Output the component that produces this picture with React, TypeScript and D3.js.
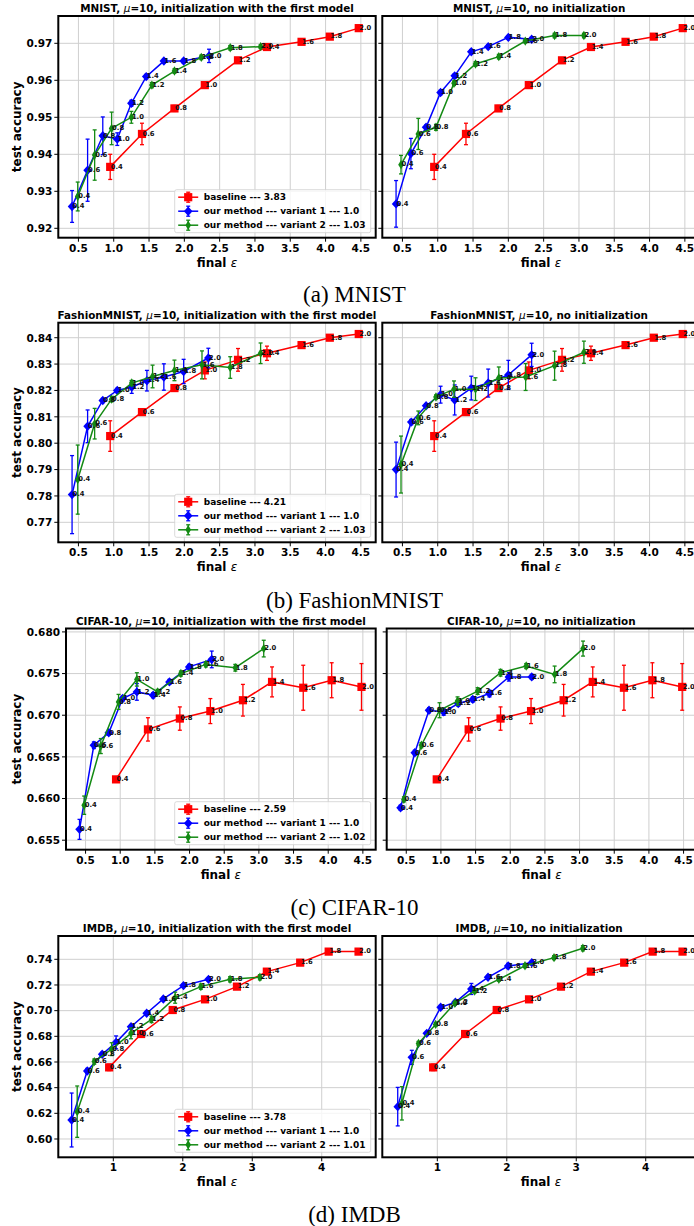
import React from 'react';
import * as d3 from 'd3';

const epsLabels = ["0.4", "0.6", "0.8", "1.0", "1.2", "1.4", "1.6", "1.8", "2.0"];

const xTicksEps = [0.5, 1.0, 1.5, 2.0, 2.5, 3.0, 3.5, 4.0, 4.5];
const xTicksImdb = [1, 2, 3, 4];
const yTicksMnist = [0.92, 0.93, 0.94, 0.95, 0.96, 0.97];
const yTicksFashion = [0.77, 0.78, 0.79, 0.80, 0.81, 0.82, 0.83, 0.84];
const yTicksCifar = [0.655, 0.660, 0.665, 0.670, 0.675, 0.680];
const yTicksImdb = [0.60, 0.62, 0.64, 0.66, 0.68, 0.70, 0.72, 0.74];

// (a) MNIST
const mnistBaseX = [0.95, 1.40, 1.86, 2.29, 2.76, 3.17, 3.66, 4.06, 4.47];
const mnistBaseY = [0.9366, 0.9455, 0.9524, 0.9587, 0.9654, 0.9690, 0.9704, 0.9718, 0.9741];
const mnistBaseErr = [0.0034, 0.0029, 0.0008, 0.0006, 0.0007, 0.0006, 0.0004, 0.0006, 0.0004];
const mnistInitV1X = [0.41, 0.63, 0.845, 1.05, 1.25, 1.46, 1.71, 1.99, 2.35];
const mnistInitV1Y = [0.9259, 0.9357, 0.9450, 0.9441, 0.9538, 0.9610, 0.9652, 0.9652, 0.9666];
const mnistInitV1Err = [0.0043, 0.0084, 0.0051, 0.0017, 0.0008, 0.0006, 0.0005, 0.0005, 0.0018];
const mnistInitV2X = [0.49, 0.73, 0.97, 1.25, 1.54, 1.86, 2.24, 2.65, 3.08];
const mnistInitV2Y = [0.9286, 0.9398, 0.9470, 0.9500, 0.9587, 0.9625, 0.9662, 0.9688, 0.9691];
const mnistInitV2Err = [0.0039, 0.0068, 0.0044, 0.0016, 0.0007, 0.0006, 0.0006, 0.0006, 0.0005];
const mnistNoV1X = [0.41, 0.62, 0.835, 1.04, 1.24, 1.475, 1.715, 2.0, 2.33];
const mnistNoV1Y = [0.9266, 0.9402, 0.9473, 0.9567, 0.9612, 0.9677, 0.9691, 0.9716, 0.9711];
const mnistNoV1Err = [0.0063, 0.0041, 0.0006, 0.0006, 0.0006, 0.0006, 0.0005, 0.0005, 0.0005];
const mnistNoV2X = [0.48, 0.725, 0.975, 1.23, 1.535, 1.865, 2.24, 2.655, 3.07];
const mnistNoV2Y = [0.9372, 0.9455, 0.9473, 0.9592, 0.9644, 0.9664, 0.9706, 0.9721, 0.9721];
const mnistNoV2Err = [0.0025, 0.0042, 0.0008, 0.0006, 0.0006, 0.0006, 0.0005, 0.0006, 0.0006];
const mnistLegend = ["baseline --- 3.83", "our method --- variant 1 --- 1.0", "our method --- variant 2 --- 1.03"];

// (b) FashionMNIST
const fashionBaseX = [0.95, 1.40, 1.86, 2.29, 2.76, 3.17, 3.66, 4.06, 4.47];
const fashionBaseY = [0.8027, 0.8118, 0.8209, 0.8276, 0.8316, 0.8341, 0.8372, 0.8400, 0.8414];
const fashionBaseErr = [0.0058, 0.0008, 0.0008, 0.0032, 0.0043, 0.0027, 0.0008, 0.0008, 0.0006];
const fashionInitV1X = [0.41, 0.63, 0.845, 1.05, 1.255, 1.47, 1.71, 1.99, 2.34];
const fashionInitV1Y = [0.7805, 0.8064, 0.8162, 0.8200, 0.8213, 0.8237, 0.8251, 0.8272, 0.8323];
const fashionInitV1Err = [0.0148, 0.0062, 0.0008, 0.0008, 0.0024, 0.0039, 0.0050, 0.0046, 0.0037];
const fashionInitV2X = [0.49, 0.73, 0.97, 1.255, 1.55, 1.86, 2.25, 2.65, 3.08];
const fashionInitV2Y = [0.7862, 0.8074, 0.8167, 0.8228, 0.8253, 0.8276, 0.8297, 0.8287, 0.8341];
const fashionInitV2Err = [0.0131, 0.0058, 0.0010, 0.0010, 0.0043, 0.0039, 0.0053, 0.0041, 0.0039];
const fashionNoV1X = [0.41, 0.625, 0.835, 1.04, 1.24, 1.475, 1.715, 2.0, 2.33];
const fashionNoV1Y = [0.7900, 0.8080, 0.8142, 0.8184, 0.8164, 0.8209, 0.8228, 0.8259, 0.8335];
const fashionNoV1Err = [0.0104, 0.0010, 0.0008, 0.0032, 0.0057, 0.0045, 0.0053, 0.0055, 0.0044];
const fashionNoV2X = [0.48, 0.725, 0.975, 1.23, 1.535, 1.865, 2.245, 2.655, 3.07];
const fashionNoV2Y = [0.7919, 0.8096, 0.8175, 0.8205, 0.8205, 0.8247, 0.8251, 0.8294, 0.8345];
const fashionNoV2Err = [0.0108, 0.0026, 0.0008, 0.0031, 0.0043, 0.0042, 0.0051, 0.0055, 0.0042];
const fashionLegend = ["baseline --- 4.21", "our method --- variant 1 --- 1.0", "our method --- variant 2 --- 1.03"];

// (c) CIFAR-10
const cifarBaseX = [0.94, 1.40, 1.86, 2.30, 2.77, 3.19, 3.64, 4.05, 4.48];
const cifarBaseY = [0.6623, 0.6683, 0.6696, 0.6705, 0.6718, 0.6740, 0.6733, 0.6742, 0.6734];
const cifarBaseErr = [0.0003, 0.0014, 0.0014, 0.0015, 0.0019, 0.0018, 0.0027, 0.0021, 0.0028];
const cifarInitV1X = [0.413, 0.62, 0.835, 1.035, 1.24, 1.475, 1.71, 1.995, 2.32];
const cifarInitV1Y = [0.6563, 0.6664, 0.6679, 0.6720, 0.6728, 0.6724, 0.6740, 0.6758, 0.6767];
const cifarInitV1Err = [0.0012, 0.0004, 0.0003, 0.0003, 0.0010, 0.0003, 0.0003, 0.0003, 0.0010];
const cifarInitV2X = [0.48, 0.72, 0.976, 1.24, 1.54, 1.875, 2.235, 2.66, 3.07];
const cifarInitV2Y = [0.6592, 0.6663, 0.6716, 0.6743, 0.6728, 0.6750, 0.6761, 0.6757, 0.6780];
const cifarInitV2Err = [0.0011, 0.0009, 0.0009, 0.0008, 0.0003, 0.0003, 0.0003, 0.0004, 0.0010];
const cifarNoV1X = [0.418, 0.623, 0.828, 1.04, 1.25, 1.46, 1.70, 1.98, 2.31];
const cifarNoV1Y = [0.6589, 0.6655, 0.6706, 0.6704, 0.6714, 0.6719, 0.6726, 0.6746, 0.6746];
const cifarNoV1Err = [0.0003, 0.0003, 0.0003, 0.0004, 0.0003, 0.0003, 0.0004, 0.0005, 0.0003];
const cifarNoV2X = [0.466, 0.718, 0.98, 1.24, 1.53, 1.86, 2.23, 2.64, 3.05];
const cifarNoV2Y = [0.6599, 0.6664, 0.6706, 0.6717, 0.6729, 0.6751, 0.6759, 0.6749, 0.6780];
const cifarNoV2Err = [0.0003, 0.0003, 0.0009, 0.0005, 0.0004, 0.0004, 0.0003, 0.0010, 0.0009];
const cifarLegend = ["baseline --- 2.59", "our method --- variant 1 --- 1.0", "our method --- variant 2 --- 1.02"];

// (d) IMDB
const imdbBaseX = [0.94, 1.40, 1.855, 2.32, 2.78, 3.21, 3.69, 4.10, 4.53];
const imdbBaseY = [0.6558, 0.6818, 0.7005, 0.7088, 0.7187, 0.7304, 0.7374, 0.7460, 0.7460];
const imdbBaseErr = [0.0025, 0.0012, 0.0012, 0.0012, 0.0012, 0.0012, 0.0010, 0.0010, 0.0010];
const imdbInitV1X = [0.40, 0.625, 0.84, 1.04, 1.255, 1.48, 1.72, 2.01, 2.37];
const imdbInitV1Y = [0.6148, 0.6530, 0.6660, 0.6753, 0.6875, 0.6980, 0.7091, 0.7195, 0.7244];
const imdbInitV1Err = [0.0210, 0.0020, 0.0015, 0.0050, 0.0015, 0.0015, 0.0012, 0.0012, 0.0012];
const imdbInitV2X = [0.48, 0.726, 0.976, 1.254, 1.55, 1.89, 2.26, 2.68, 3.11];
const imdbInitV2Y = [0.6213, 0.6603, 0.6700, 0.6823, 0.6932, 0.7101, 0.7187, 0.7244, 0.7260];
const imdbInitV2Err = [0.0200, 0.0020, 0.0050, 0.0042, 0.0025, 0.0043, 0.0020, 0.0020, 0.0020];
const imdbNoV1X = [0.43, 0.633, 0.848, 1.048, 1.26, 1.49, 1.73, 2.02, 2.36];
const imdbNoV1Y = [0.6252, 0.6636, 0.6823, 0.7026, 0.7065, 0.7169, 0.7260, 0.7348, 0.7374];
const imdbNoV1Err = [0.0150, 0.0055, 0.0015, 0.0015, 0.0015, 0.0043, 0.0015, 0.0020, 0.0015];
const imdbNoV2X = [0.49, 0.729, 0.976, 1.252, 1.538, 1.886, 2.262, 2.68, 3.095];
const imdbNoV2Y = [0.6278, 0.6745, 0.6893, 0.7057, 0.7153, 0.7244, 0.7350, 0.7413, 0.7486];
const imdbNoV2Err = [0.0130, 0.0015, 0.0015, 0.0015, 0.0015, 0.0015, 0.0015, 0.0015, 0.0020];
const imdbLegend = ["baseline --- 3.78", "our method --- variant 1 --- 1.0", "our method --- variant 2 --- 1.01"];

const RED = "#ff0000";
const BLUE = "#0000ff";
const GREEN = "#138a13";
const FONT = "'DejaVu Sans', sans-serif";

type Series = { x: number[]; y: number[]; err: number[]; color: string; marker: string };
type Box = { x0: number; x1: number; y0: number; y1: number };

const mk = (x: number[], y: number[], err: number[], color: string, marker: string): Series =>
  ({ x, y, err, color, marker });

function Marker({ type, cx, cy, color }: { type: string; cx: number; cy: number; color: string }) {
  if (type === "s") return <rect x={cx - 4.1} y={cy - 4.1} width={8.2} height={8.2} fill={color} />;
  const w = type === "D" ? 4.3 : 2.8;
  const h = 4.7;
  return <path d={`M${cx},${cy - h}L${cx + w},${cy}L${cx},${cy + h}L${cx - w},${cy}Z`} fill={color} />;
}

function Panel(props: {
  box: Box; xDomain: number[]; yDomain: number[]; xTicks: number[]; yTicks: number[];
  xFmt: string; yFmt: string; dataset: string; sub: string; showY: boolean;
  series: Series[]; legend?: string[];
}) {
  const { box, series, legend } = props;
  const x = d3.scaleLinear().domain(props.xDomain).range([box.x0, box.x1]);
  const y = d3.scaleLinear().domain(props.yDomain).range([box.y1, box.y0]);
  const line = d3.line<[number, number]>().x(d => x(d[0])).y(d => y(d[1]));
  const fx = d3.format(props.xFmt);
  const fy = d3.format(props.yFmt);
  const cxm = (box.x0 + Math.min(box.x1, 694)) / 2;
  const cxFull = (box.x0 + box.x1) / 2;

  const lw = 196, lh = 43;
  const lx = box.x1 - 5 - lw, ly = box.y1 - 5 - lh;

  return (
    <g>
      {/* grid */}
      {props.xTicks.map(t => (
        <line key={"gx" + t} x1={x(t)} x2={x(t)} y1={box.y0} y2={box.y1} stroke="#cfcfcf" strokeWidth={1} />
      ))}
      {props.yTicks.map(t => (
        <line key={"gy" + t} x1={box.x0} x2={box.x1} y1={y(t)} y2={y(t)} stroke="#cfcfcf" strokeWidth={1} />
      ))}
      {/* series */}
      {series.map((s, si) => {
        const pts = s.x.map((v, i) => [v, s.y[i]] as [number, number]);
        return (
          <g key={"s" + si}>
            {pts.map((p, i) => (
              <g key={"e" + i} stroke={s.color} strokeWidth={1.3}>
                <line x1={x(p[0])} x2={x(p[0])} y1={y(p[1] - s.err[i])} y2={y(p[1] + s.err[i])} />
                <line x1={x(p[0]) - 2} x2={x(p[0]) + 2} y1={y(p[1] - s.err[i])} y2={y(p[1] - s.err[i])} />
                <line x1={x(p[0]) - 2} x2={x(p[0]) + 2} y1={y(p[1] + s.err[i])} y2={y(p[1] + s.err[i])} />
              </g>
            ))}
            <path d={line(pts) || ""} fill="none" stroke={s.color} strokeWidth={1.5} />
            {pts.map((p, i) => (
              <Marker key={"m" + i} type={s.marker} cx={x(p[0])} cy={y(p[1])} color={s.color} />
            ))}
          </g>
        );
      })}
      {/* annotations */}
      {series.map((s, si) =>
        s.x.map((v, i) => (
          <text key={`a${si}-${i}`} x={x(v) + 0.5} y={y(s.y[i]) + 1.8} fontSize={6.8} fontWeight="bold"
            fontFamily={FONT} fill="#111">{epsLabels[i]}</text>
        ))
      )}
      {/* frame */}
      <rect x={box.x0} y={box.y0} width={box.x1 - box.x0} height={box.y1 - box.y0} fill="none" stroke="#000" strokeWidth={2} />
      {/* y ticks */}
      {props.yTicks.map(t => (
        <g key={"ty" + t}>
          <line x1={box.x0 - 4} x2={box.x0} y1={y(t)} y2={y(t)} stroke="#000" strokeWidth={1} />
          {props.showY && (
            <text x={box.x0 - 6} y={y(t) + 3.8} textAnchor="end" fontSize={10.5} fontWeight="bold" fontFamily={FONT}>{fy(t)}</text>
          )}
        </g>
      ))}
      {/* x ticks */}
      {props.xTicks.map(t => (
        <g key={"tx" + t}>
          <line x1={x(t)} x2={x(t)} y1={box.y1} y2={box.y1 + 4} stroke="#000" strokeWidth={1} />
          <text x={x(t)} y={box.y1 + 14} textAnchor="middle" fontSize={10.5} fontWeight="bold" fontFamily={FONT}>{fx(t)}</text>
        </g>
      ))}
      {/* labels */}
      <text x={cxFull} y={box.y1 + 29} textAnchor="middle" fontSize={12} fontWeight="bold" fontFamily={FONT}>
        final <tspan fontStyle="oblique" fontWeight="normal">ε</tspan>
      </text>
      {props.showY && (
        <text transform={`translate(21,${(box.y0 + box.y1) / 2}) rotate(-90)`} textAnchor="middle" fontSize={12}
          fontWeight="bold" fontFamily={FONT}>test accuracy</text>
      )}
      <text x={props.showY ? cxFull : cxm + 1} y={box.y0 - 4} textAnchor="middle" fontSize={10.4} fontWeight="bold" fontFamily={FONT}>
        {props.dataset}, <tspan fontStyle="oblique" fontWeight="normal">μ</tspan>=10, {props.sub}
      </text>
      {/* legend */}
      {legend && (
        <g>
          <rect x={lx} y={ly} width={lw} height={lh} rx={2} fill="#fff" fillOpacity={0.8} stroke="#d0d0d0" strokeWidth={0.8} />
          {legend.map((name, i) => {
            const s = series[i];
            const ry = ly + 7.5 + i * 14;
            const hx = lx + 13.5;
            return (
              <g key={"l" + i}>
                <line x1={lx + 3.5} x2={lx + 23.5} y1={ry} y2={ry} stroke={s.color} strokeWidth={1.5} />
                <g stroke={s.color} strokeWidth={1.3}>
                  <line x1={hx} x2={hx} y1={ry - 5} y2={ry + 5} />
                  <line x1={hx - 2} x2={hx + 2} y1={ry - 5} y2={ry - 5} />
                  <line x1={hx - 2} x2={hx + 2} y1={ry + 5} y2={ry + 5} />
                </g>
                <Marker type={s.marker} cx={hx} cy={ry} color={s.color} />
                <text x={lx + 29} y={ry + 3.2} fontSize={9} fontWeight="bold" fontFamily={FONT}>{name}</text>
              </g>
            );
          })}
        </g>
      )}
    </g>
  );
}

const rows = [
  {
    name: "MNIST", caption: "(a) MNIST", capY: 302, y0: 16, y1: 237.7, lx: [58.3, 375.7], rx: [382.3, 699.7],
    xDomain: [0.215, 4.71], yDomain: [0.91746, 0.97738], xTicks: xTicksEps, yTicks: yTicksMnist, xFmt: ".1f", yFmt: ".2f",
    legend: mnistLegend,
    left: [mk(mnistBaseX, mnistBaseY, mnistBaseErr, RED, "s"), mk(mnistInitV1X, mnistInitV1Y, mnistInitV1Err, BLUE, "D"), mk(mnistInitV2X, mnistInitV2Y, mnistInitV2Err, GREEN, "d")],
    right: [mk(mnistBaseX, mnistBaseY, mnistBaseErr, RED, "s"), mk(mnistNoV1X, mnistNoV1Y, mnistNoV1Err, BLUE, "D"), mk(mnistNoV2X, mnistNoV2Y, mnistNoV2Err, GREEN, "d")],
  },
  {
    name: "FashionMNIST", caption: "(b) FashionMNIST", capY: 608, y0: 322.7, y1: 542.3, lx: [58.3, 375.7], rx: [382.3, 699.7],
    xDomain: [0.215, 4.71], yDomain: [0.76242, 0.84569], xTicks: xTicksEps, yTicks: yTicksFashion, xFmt: ".1f", yFmt: ".2f",
    legend: fashionLegend,
    left: [mk(fashionBaseX, fashionBaseY, fashionBaseErr, RED, "s"), mk(fashionInitV1X, fashionInitV1Y, fashionInitV1Err, BLUE, "D"), mk(fashionInitV2X, fashionInitV2Y, fashionInitV2Err, GREEN, "d")],
    right: [mk(fashionBaseX, fashionBaseY, fashionBaseErr, RED, "s"), mk(fashionNoV1X, fashionNoV1Y, fashionNoV1Err, BLUE, "D"), mk(fashionNoV2X, fashionNoV2Y, fashionNoV2Err, GREEN, "d")],
  },
  {
    name: "CIFAR-10", caption: "(c) CIFAR-10", capY: 915, y0: 628.5, y1: 849.7, lx: [66, 375.7], rx: [386.7, 696.4],
    xDomain: [0.218, 4.685], yDomain: [0.65386, 0.68041], xTicks: xTicksEps, yTicks: yTicksCifar, xFmt: ".1f", yFmt: ".3f",
    legend: cifarLegend,
    left: [mk(cifarBaseX, cifarBaseY, cifarBaseErr, RED, "s"), mk(cifarInitV1X, cifarInitV1Y, cifarInitV1Err, BLUE, "D"), mk(cifarInitV2X, cifarInitV2Y, cifarInitV2Err, GREEN, "d")],
    right: [mk(cifarBaseX, cifarBaseY, cifarBaseErr, RED, "s"), mk(cifarNoV1X, cifarNoV1Y, cifarNoV1Err, BLUE, "D"), mk(cifarNoV2X, cifarNoV2Y, cifarNoV2Err, GREEN, "d")],
  },
  {
    name: "IMDB", caption: "(d) IMDB", capY: 1222, y0: 936, y1: 1157.3, lx: [58.3, 375.7], rx: [382.3, 699.7],
    xDomain: [0.208, 4.777], yDomain: [0.58574, 0.75816], xTicks: xTicksImdb, yTicks: yTicksImdb, xFmt: "d", yFmt: ".2f",
    legend: imdbLegend,
    left: [mk(imdbBaseX, imdbBaseY, imdbBaseErr, RED, "s"), mk(imdbInitV1X, imdbInitV1Y, imdbInitV1Err, BLUE, "D"), mk(imdbInitV2X, imdbInitV2Y, imdbInitV2Err, GREEN, "d")],
    right: [mk(imdbBaseX, imdbBaseY, imdbBaseErr, RED, "s"), mk(imdbNoV1X, imdbNoV1Y, imdbNoV1Err, BLUE, "D"), mk(imdbNoV2X, imdbNoV2Y, imdbNoV2Err, GREEN, "d")],
  },
];

export default function App() {
  return (
    <svg width={694} height={1226} style={{ position: "absolute", left: 0, top: 0, background: "#fff" }}>
      {rows.map(r => (
        <g key={r.name}>
          <Panel box={{ x0: r.lx[0], x1: r.lx[1], y0: r.y0, y1: r.y1 }} xDomain={r.xDomain} yDomain={r.yDomain}
            xTicks={r.xTicks} yTicks={r.yTicks} xFmt={r.xFmt} yFmt={r.yFmt} dataset={r.name}
            sub="initialization with the first model" showY={true} series={r.left} legend={r.legend} />
          <Panel box={{ x0: r.rx[0], x1: r.rx[1], y0: r.y0, y1: r.y1 }} xDomain={r.xDomain} yDomain={r.yDomain}
            xTicks={r.xTicks} yTicks={r.yTicks} xFmt={r.xFmt} yFmt={r.yFmt} dataset={r.name}
            sub="no initialization" showY={false} series={r.right} />
          <text x={354.5} y={r.capY} textAnchor="middle" fontSize={23} fontFamily="'Liberation Serif', 'Times New Roman', serif">
            {r.caption}
          </text>
        </g>
      ))}
    </svg>
  );
}
